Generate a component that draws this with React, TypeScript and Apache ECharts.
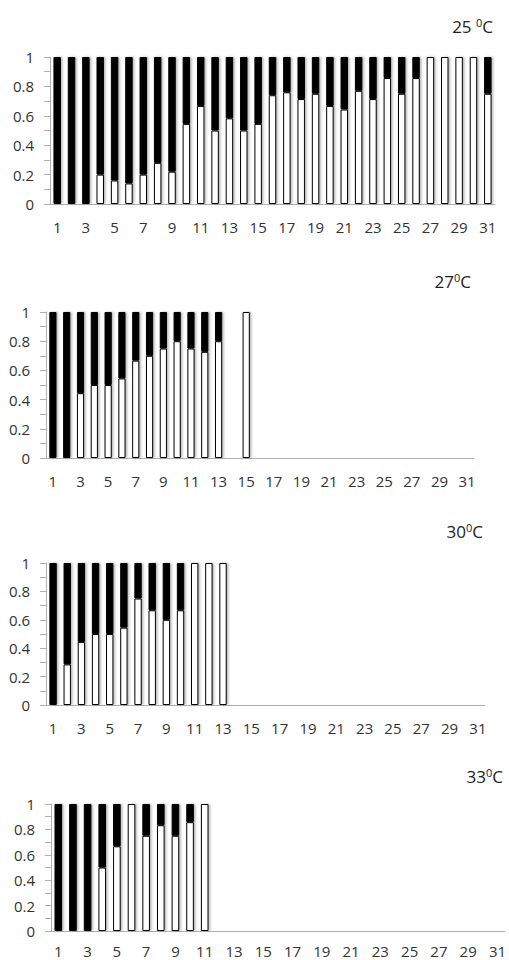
import React, { useEffect, useRef } from "react";
import * as echarts from "echarts";

const categories = Array.from({ length: 31 }, (_, i) => String(i + 1));

const titles = ["25 ", "27", "30", "33"];

const p25White = [0, 0, 0, 0.2, 0.16, 0.14, 0.2, 0.28, 0.22, 0.545, 0.667, 0.5, 0.583, 0.5, 0.545, 0.74, 0.76, 0.714, 0.75, 0.667, 0.643, 0.77, 0.714, 0.857, 0.75, 0.857, 1, 1, 1, 1, 0.75];
const p25Black = [1, 1, 1, 0.8, 0.84, 0.86, 0.8, 0.72, 0.78, 0.455, 0.333, 0.5, 0.417, 0.5, 0.455, 0.26, 0.24, 0.286, 0.25, 0.333, 0.357, 0.23, 0.286, 0.143, 0.25, 0.143, 0, 0, 0, 0, 0.25];

const p27White = [0, 0, 0.444, 0.5, 0.5, 0.545, 0.667, 0.7, 0.75, 0.8, 0.75, 0.727, 0.8, null, 1, null, null, null, null, null, null, null, null, null, null, null, null, null, null, null, null];
const p27Black = [1, 1, 0.556, 0.5, 0.5, 0.455, 0.333, 0.3, 0.25, 0.2, 0.25, 0.273, 0.2, null, 0, null, null, null, null, null, null, null, null, null, null, null, null, null, null, null, null];

const p30White = [0, 0.286, 0.444, 0.5, 0.5, 0.545, 0.75, 0.667, 0.6, 0.667, 1, 1, 1, null, null, null, null, null, null, null, null, null, null, null, null, null, null, null, null, null, null];
const p30Black = [1, 0.714, 0.556, 0.5, 0.5, 0.455, 0.25, 0.333, 0.4, 0.333, 0, 0, 0, null, null, null, null, null, null, null, null, null, null, null, null, null, null, null, null, null, null];

const p33White = [0, 0, 0, 0.5, 0.667, 1, 0.75, 0.833, 0.75, 0.857, 1, null, null, null, null, null, null, null, null, null, null, null, null, null, null, null, null, null, null, null, null];
const p33Black = [1, 1, 1, 0.5, 0.333, 0, 0.25, 0.167, 0.25, 0.143, 0, null, null, null, null, null, null, null, null, null, null, null, null, null, null, null, null, null, null, null, null];

const whites = [p25White, p27White, p30White, p33White];
const blacks = [p25Black, p27Black, p30Black, p33Black];

const grids = [
  { left: 50, right: 14, top: 57, height: 147 },
  { left: 46, right: 35, top: 312, height: 146 },
  { left: 46, right: 24, top: 563, height: 142 },
  { left: 51, right: 2, top: 804, height: 127 },
];
const xLabelMargins = [15, 15, 15, 12];
const titlePos = [
  { right: 11, top: 12 },
  { right: 33, top: 267 },
  { right: 21, top: 517 },
  { right: 1, top: 762 },
];

const FONT = "Open Sans";

export default function App() {
  const ref = useRef<HTMLDivElement>(null);
  useEffect(() => {
    document.body.style.margin = "0";
    if (!ref.current) return;
    const chart = echarts.init(ref.current, null, { renderer: "svg" });
    const shadow = { shadowColor: "rgba(0,0,0,0.3)", shadowBlur: 2, shadowOffsetX: 1.5, shadowOffsetY: 0 };
    const option: any = {
      animation: false,
      backgroundColor: "#ffffff",
      title: titles.map((t, i) => ({
        text: `${t}{s|0}C`,
        ...titlePos[i],
        textStyle: {
          fontFamily: FONT,
          fontSize: 17,
          fontWeight: "normal",
          color: "#222",
          rich: {
            s: { fontSize: 11, fontFamily: FONT, color: "#222", verticalAlign: "top", padding: [0, 0, 7, 0] },
          },
        },
      })),
      grid: grids,
      xAxis: grids.map((_, i) => ({
        type: "category",
        gridIndex: i,
        data: categories,
        axisTick: { show: false },
        axisLine: { lineStyle: { color: "#b0b0b0", width: 1 } },
        axisLabel: { interval: 1, fontFamily: FONT, fontSize: 15, color: "#333", margin: xLabelMargins[i] },
      })),
      yAxis: grids.map((_, i) => ({
        type: "value",
        gridIndex: i,
        min: 0,
        max: 1,
        interval: 0.2,
        splitLine: { show: false },
        axisLine: { show: true, lineStyle: { color: "#b0b0b0", width: 1 } },
        axisTick: { show: true, length: 6, lineStyle: { color: "#b0b0b0" } },
        minorTick: { show: true, splitNumber: 2, length: 6, lineStyle: { color: "#b0b0b0" } },
        axisLabel: {
          fontFamily: FONT,
          fontSize: 15,
          color: "#333",
          margin: 16,
          formatter: (v: number) => String(Math.round(v * 10) / 10),
        },
      })),
      series: grids.flatMap((_, i) => [
        {
          type: "bar",
          name: "white" + i,
          xAxisIndex: i,
          yAxisIndex: i,
          stack: "s" + i,
          data: whites[i],
          barWidth: "52%",
          itemStyle: { color: "#ffffff", borderColor: "#000", borderWidth: 1, ...shadow },
        },
        {
          type: "bar",
          name: "black" + i,
          xAxisIndex: i,
          yAxisIndex: i,
          stack: "s" + i,
          data: blacks[i],
          barWidth: "52%",
          itemStyle: { color: "#000000", borderColor: "#000", borderWidth: 1, ...shadow },
        },
      ]),
    };
    chart.setOption(option);
    return () => chart.dispose();
  }, []);
  return <div ref={ref} style={{ width: 509, height: 960 }} />;
}
